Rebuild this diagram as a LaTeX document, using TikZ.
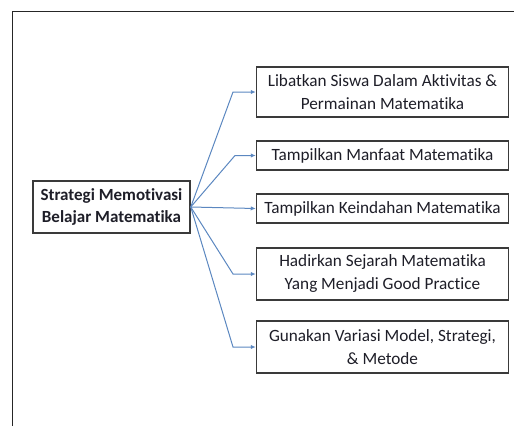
\documentclass[tikz,border=0pt]{standalone}
\usepackage{fontspec}
\setmainfont{Carlito}[Ligatures=NoCommon]
\usepackage{tikz}
\usetikzlibrary{arrows.meta,positioning}
\definecolor{Frame}{HTML}{3A3A3A}
\definecolor{Edge}{HTML}{5B87C0}
\definecolor{Txt}{HTML}{1E1E28}
\tikzset{
  >={Latex[length=5pt,width=4.5pt]},
  hub/.style={draw=Frame,line width=1.5pt,fill=white,minimum width=157pt,minimum height=52pt,
    inner sep=1pt,align=center,text=Txt,font=\fontsize{17}{22}\selectfont\bfseries},
  item/.style={draw=Frame,line width=1.5pt,fill=white,minimum width=252pt,inner sep=1pt,
    align=center,text=Txt,font=\fontsize{17.2}{23}\selectfont},
  link/.style={->,line width=1pt,draw=Edge},
  outline/.style={draw=black!85,line width=1pt}
}

\begin{document}
\begin{tikzpicture}[x=1pt,y=-1pt]
        \useasboundingbox (0,0) rectangle (514,426);
        \draw[outline] (12.5,426)--(12.5,11)--(514,11);

        \node[hub] (m) at (111.5,207) {Strategi Memotivasi\\Belajar Matematika};
        \node[item,minimum height=50pt] (k1) at (382.5,92) {Libatkan Siswa Dalam Aktivitas \&\\Permainan Matematika};
        \node[item,minimum height=29pt] (k2) at (382.5,155.5) {Tampilkan Manfaat Matematika};
        \node[item,minimum height=29pt] (k3) at (382.5,208.5) {Tampilkan Keindahan Matematika};
        \node[item,minimum height=52pt] (k4) at (382.5,274) {Hadirkan Sejarah Matematika\\Yang Menjadi Good Practice};
        \node[item,minimum height=52pt] (k5) at (382.5,347) {Gunakan Variasi Model, Strategi,\\\& Metode};

        \coordinate (e1) at (233,92);
        \coordinate (e2) at (235,155.5);
        \coordinate (e4) at (233,274);
        \coordinate (e5) at (233,347);

        \draw[link] (m.east)--(e1)--(k1.west);
        \draw[link] (m.east)--(e2)--(k2.west);
        \draw[link] (m.east)--(k3.west);
        \draw[link] (m.east)--(e4)--(k4.west);
        \draw[link] (m.east)--(e5)--(k5.west);
      \end{tikzpicture}
\end{document}
